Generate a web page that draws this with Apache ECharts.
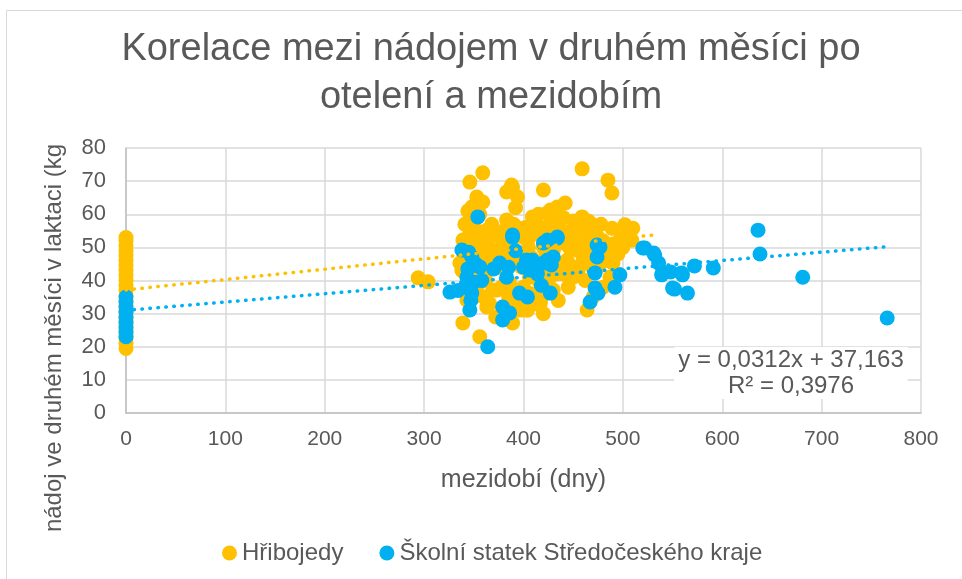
<!DOCTYPE html>
<html>
<head>
<meta charset="utf-8">
<script src="https://cdn.jsdelivr.net/npm/echarts@6/dist/echarts.min.js"></script>
<style>
html,body{margin:0;padding:0;background:#fff;}
#main{width:962px;height:579px;}
</style>
</head>
<body>
<div id="main"></div>
<script>
// ---- data ----
const titleLines = ['Korelace mezi nádojem v druhém měsíci po', 'otelení a mezidobím'];
const xAxisTitle = 'mezidobí (dny)';
const yAxisTitle = 'nádoj ve druhém měsíci v laktaci (kg';
const seriesNames = ['Hřibojedy', 'Školní statek Středočeského kraje'];
const equationLines = ['y = 0,0312x + 37,163', 'R² = 0,3976'];

// Hřibojedy: points at interval 0
const hribojedyZeroY = [19.5, 21, 22.5, 24, 25.5, 27, 28.5, 30, 31, 32.5, 34, 35.5, 37, 38.5, 40, 41.5, 43, 44.5, 46, 47.5, 49, 50.5, 52, 53];
// Hřibojedy: other points [mezidobí, nádoj]
const hribojedyPoints = [
  [294,40.8],[304,39.6],[339,27.2],[346,69.7],[359,72.5],[353,65.2],[359,63.7],[348,62.2],[343,56.8],[339,52.2],
  [346,54.3],[363,55.2],[356,49.2],[336,45.3],[366,46.2],[359,41],[369,37.1],[343,34.1],[356,23],[388,68.8],
  [394,65.2],[383,66.7],[420,67.3],[383,58.3],[376,53.1],[393,56.1],[409,59.2],[424,60.4],[434,62.2],[413,54.3],
  [430,53.1],[393,46.2],[386,39.2],[396,31.1],[389,27.2],[417,34.1],[373,37.1],[406,41],[363,32],[459,73.7],
  [485,70.3],[489,66.4],[442,63.4],[427,61.3],[389,68.2],[459,59.2],[467,57.4],[489,55.8],[502,56.8],[510,55.8],
  [509,52.2],[470,52.8],[480,49.2],[454,49.2],[444,46.2],[450,41],[464,45.3],[487,41],[490,45.3],[417,33.2],
  [430,37.1],[464,31.1],[420,43.2],[396,37.1],[399,31.1],[406,53.1],[437,51.3],[467,54.3],
  [340,48],[342,51],[345,53],[350,50],[352,47],[348,44],[344,42],[352,41],[355,39],[347,38],
  [350,35],[338,43],[341,57],[350,58],[356,60],[344,61],[353,55],[358,52],[360,44],[362,40],
  [365,50],[368,57],[370,54],[372,48],[375,45],[378,50],[380,55],[382,43],[385,47],[388,52],
  [390,57],[392,62],[395,48],[398,44],[400,53],[402,56],[405,50],[408,47],[410,42],[412,57],
  [415,60],[418,56],[420,50],[422,47],[425,55],[428,58],[430,49],[433,42],[436,56],[438,45],
  [440,59],[443,53],[446,50],[448,55],[450,58],[452,44],[455,52],[458,56],[460,47],[462,51],
  [465,58],[468,49],[470,44],[472,55],[475,53],[478,57],[480,52],[483,46],[485,50],[490,51],
  [495,48],[498,53],[500,50],[505,53],[378,38],[385,35],[392,33],[400,38],[408,36],[415,40],
  [425,39],[435,34],[445,38],[455,43],[462,40],[475,44],[480,38],[440,42],[360,35],[366,33],
  [372,29],[384,30],[404,31],[412,33],[420,30],[470,35]
];

// Školní statek: points at interval 0
const skolniZeroY = [23, 24.5, 26, 27.5, 29, 30.5, 32, 33.5, 35];
// Školní statek: other points [mezidobí, nádoj]
const skolniPoints = [
  [354,59.2],[338,49.2],[348,47.1],[356,44.1],[343,41],[341,38],[326,36.5],[348,36.2],[346,31.1],[364,20],
  [389,53.1],[376,45.3],[383,41],[396,36.2],[404,35],[379,32],[379,28.1],[386,30.2],[409,46.2],[420,45.3],
  [424,52.2],[434,53.1],[430,47.1],[427,36.2],[406,43.2],[434,52.8],[420,51.3],[403,46.2],[410,45.3],[424,46.2],
  [428,44.7],[477,50.1],[474,47.1],[472,42.3],[472,37.7],[475,36.2],[467,33.5],[497,41.7],[492,38],[389,53.7],
  [474,50.7],[520,49.8],[532,47.7],[536,45.3],[540,42.6],[559,42.3],[550,37.7],[565,36.2],[572,44.4],[591,43.8],
  [636,55.2],[638,48],[681,41],[766,28.7],[531,48.3],[522,49.8],[539,41.7],[548,42.6],[560,41.7],[552,37.4],
  [345,48.5],[352,45],[344,43.5],[350,39.5],[347,34],[358,40],[334,37],[400,44],[414,42],[418,38.5],
  [385,44],[392,49],[370,43.5]
];

// Linear trendlines (end points)
const hribojedyTrend = [[0, 37.163], [530, 53.7]];
const skolniTrend = [[0, 31.0], [766, 50.2]];

const xTicks = { min: 0, max: 800, interval: 100 };
const yTicks = { min: 0, max: 80, interval: 10 };

// ---- chart ----
const yellow = '#FFC000';
const blue = '#00B0F0';
const textColor = '#595959';
const gridColor = '#D9D9D9';
const font = '"Liberation Sans", Arial, sans-serif';

const hribojedyData = hribojedyZeroY.map(v => [0, v]).concat(hribojedyPoints);
const skolniData = skolniZeroY.map(v => [0, v]).concat(skolniPoints);

const chart = echarts.init(document.getElementById('main'), null, { renderer: 'canvas' });

const dotted = (color) => ({
  color: color, width: 3.5, type: [0.5, 7.5], cap: 'round'
});

chart.setOption({
  animation: false,
  backgroundColor: '#fff',
  textStyle: { fontFamily: font },
  grid: { left: 126, right: 41, top: 148, bottom: 166, containLabel: false },
  xAxis: {
    type: 'value', min: xTicks.min, max: xTicks.max, interval: xTicks.interval,
    name: xAxisTitle, nameLocation: 'middle', nameGap: 55,
    nameTextStyle: { color: textColor, fontSize: 25, fontFamily: font },
    axisLine: { show: true, lineStyle: { color: '#BFBFBF', width: 1.5 } },
    axisTick: { show: false },
    axisLabel: { color: textColor, fontSize: 21, margin: 16, fontFamily: font },
    splitLine: { show: true, lineStyle: { color: gridColor, width: 1.5 } }
  },
  yAxis: {
    type: 'value', min: yTicks.min, max: yTicks.max, interval: yTicks.interval,
    axisLine: { show: true, lineStyle: { color: '#BFBFBF', width: 1.5 } },
    axisTick: { show: false },
    axisLabel: { color: textColor, fontSize: 22, margin: 20, fontFamily: font },
    splitLine: { show: true, lineStyle: { color: gridColor, width: 1.5 } }
  },
  legend: {
    data: seriesNames,
    left: 217, top: 536,
    icon: 'circle', itemWidth: 15, itemHeight: 15, itemGap: 36,
    textStyle: { color: textColor, fontSize: 24, fontFamily: font, lineHeight: 24 }
  },
  series: [
    {
      name: seriesNames[0], type: 'scatter', data: hribojedyData,
      symbol: 'circle', symbolSize: 15, itemStyle: { color: yellow, opacity: 1 }
    },
    {
      name: seriesNames[1], type: 'scatter', data: skolniData,
      symbol: 'circle', symbolSize: 15, itemStyle: { color: blue, opacity: 1 }
    },
    {
      name: 'trend1', type: 'line', data: hribojedyTrend, showSymbol: false, symbol: 'none',
      lineStyle: dotted(yellow), silent: true, z: 5
    },
    {
      name: 'trend2', type: 'line', data: skolniTrend, showSymbol: false, symbol: 'none',
      lineStyle: dotted(blue), silent: true, z: 5
    }
  ],
  graphic: [
    {
      type: 'rect', silent: true, z: -10,
      shape: { x: 6.5, y: 10.5, width: 1200, height: 1200 },
      style: { fill: 'none', stroke: '#D9D9D9', lineWidth: 1 }
    },
    {
      type: 'text', x: 491, y: 26,
      style: {
        text: titleLines.join('\n'), fill: textColor, fontSize: 38, fontFamily: font,
        lineHeight: 48, align: 'center', verticalAlign: 'top'
      }
    },
    {
      type: 'text', x: 54, y: 338, rotation: Math.PI / 2,
      style: {
        text: yAxisTitle, fill: textColor, fontSize: 24, fontFamily: font,
        align: 'center', verticalAlign: 'middle'
      }
    },
    {
      type: 'text', x: 791, y: 373, z: 10,
      style: {
        text: equationLines.join('\n'), fill: textColor, fontSize: 24, fontFamily: font,
        lineHeight: 26, align: 'center', verticalAlign: 'middle',
        backgroundColor: '#fff', padding: [0, 4]
      }
    }
  ]
});
</script>
</body>
</html>
